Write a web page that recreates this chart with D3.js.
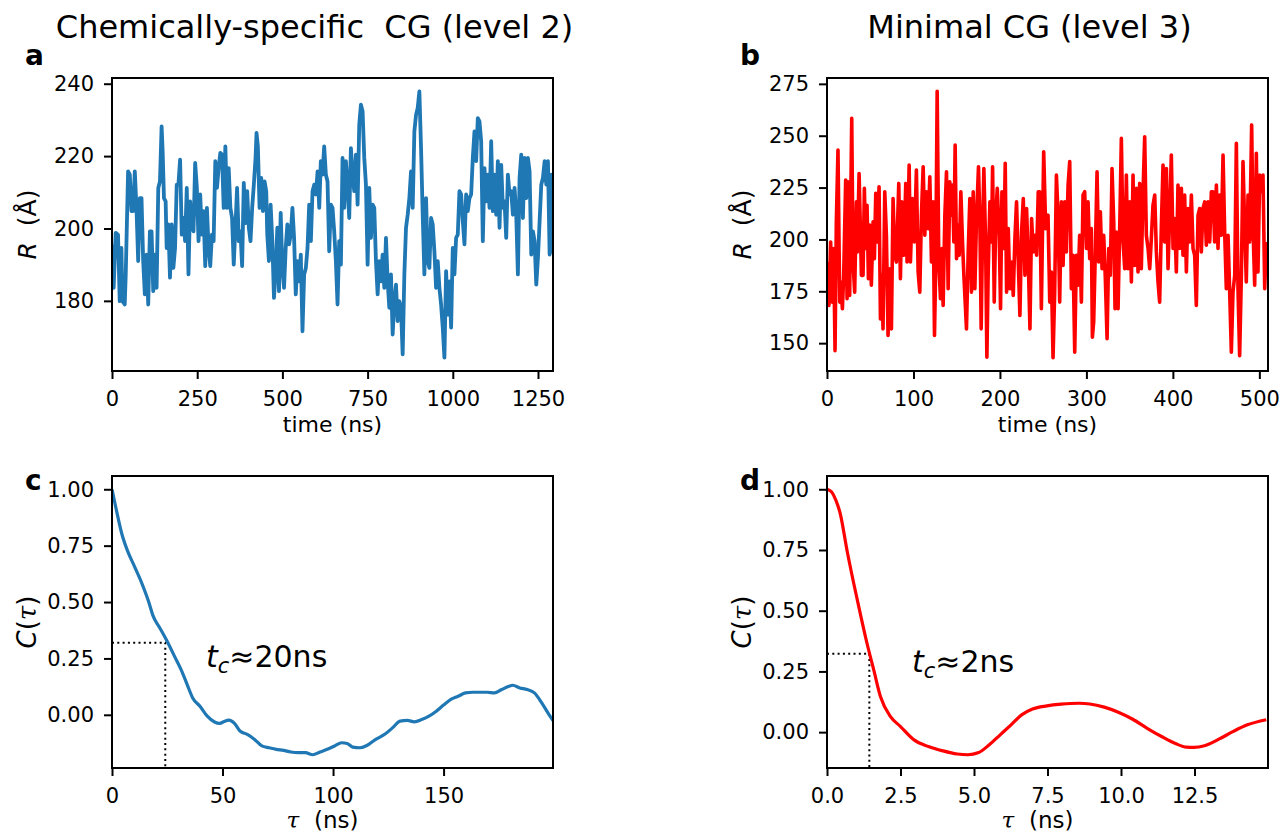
<!DOCTYPE html>
<html>
<head>
<meta charset="utf-8">
<script src="https://cdn.jsdelivr.net/npm/d3@7"></script>
<style>
  html, body { margin: 0; padding: 0; background: #fff; }
  svg { display: block; font-family: "DejaVu Sans", sans-serif; }
</style>
</head>
<body>
<svg id="chart" width="1283" height="838"></svg>
<script>
// ---------------- DATA ----------------
// Panel a: chemically-specific CG, R (Å) vs time (ns)
const aTime = [0,4.9,10.8,17.7,22.6,27.6,30.5,37.4,40.3,47.2,52.2,57.1,62.0,66.9,71.8,76.8,81.7,86.6,91.5,96.4,101.4,106.3,111.2,116.1,121.0,126.0,130.9,135.8,140.7,145.6,148.6,152.5,157.4,160.4,165.3,170.2,175.2,180.1,185.0,189.9,194.8,199.8,204.7,209.6,214.5,219.4,224.4,229.3,234.2,239.1,244.0,249.0,253.9,258.8,263.7,268.6,273.6,278.5,283.4,288.3,293.2,298.2,303.1,308.0,312.9,317.8,322.8,327.7,332.6,337.5,342.4,347.4,352.3,357.2,362.1,367.0,372.0,376.9,381.8,386.7,391.6,396.6,401.5,406.4,411.3,416.2,421.2,424.1,428.0,433.0,437.9,442.8,447.7,452.6,455.6,460.5,465.4,470.4,475.3,480.2,485.1,490.0,495.0,499.9,504.8,509.7,514.6,519.6,524.5,529.4,534.3,539.2,544.2,549.1,554.0,558.9,563.8,568.8,573.7,578.6,583.5,588.4,593.4,598.3,603.2,608.1,612.8,617.7,622.6,627.5,632.4,637.3,642.2,647.1,652.0,656.9,661.8,666.7,671.6,676.5,681.4,686.3,691.2,696.1,701.0,705.9,710.8,715.7,720.6,725.5,730.4,735.3,740.2,745.1,750.0,754.9,759.8,764.7,769.6,774.5,779.4,784.3,789.2,794.1,799.0,803.9,808.8,813.7,818.6,823.5,828.4,833.3,838.2,843.1,848.0,852.9,857.8,862.7,867.6,872.5,877.4,882.3,887.2,892.1,897.0,901.9,906.8,911.7,916.6,921.5,926.4,931.3,936.2,941.1,946.0,950.9,955.8,960.7,965.6,970.5,975.4,980.3,985.2,990.1,995.0,999.9,1004.8,1009.7,1014.6,1019.5,1024.4,1029.3,1034.2,1039.1,1044.0,1048.9,1053.8,1058.7,1063.6,1068.5,1073.4,1078.3,1083.2,1088.1,1093.0,1097.9,1102.8,1107.7,1112.6,1117.5,1122.4,1127.3,1132.2,1137.1,1142.0,1146.9,1151.8,1156.7,1161.6,1166.5,1171.4,1176.3,1181.2,1186.1,1191.0,1195.9,1200.8,1205.7,1210.6,1215.5,1220.4,1225.3,1230.2,1235.1,1240.0,1244.9,1249.8,1254.7,1259.6,1264.5,1269.4,1274.3,1279.2,1284.1,1289.0,1294.0];
const aR = [195.6,183.6,198.8,198.3,179.9,194.6,179.9,179.0,187.3,215.8,214.9,204.8,204.8,215.8,205.7,191.0,208.4,208.4,191.0,181.8,192.8,179.0,199.2,199.2,182.7,192.8,183.6,211.2,213.0,228.2,221.3,208.4,207.5,194.6,201.1,186.4,201.1,189.1,194.6,212.1,212.1,219.0,198.3,202.9,196.5,211.2,187.3,207.5,201.1,199.2,218.1,211.2,196.5,209.4,198.3,204.8,189.6,205.7,194.6,189.6,198.3,196.5,218.6,211.2,216.7,220.9,220.4,205.7,222.7,205.7,216.7,205.7,202.9,190.0,200.2,211.2,196.5,199.2,189.6,212.6,201.5,210.3,200.2,196.5,205.7,212.1,219.5,226.4,222.7,205.7,214.0,204.8,213.0,210.3,198.3,191.0,206.6,196.5,180.8,188.2,200.2,182.7,204.3,189.1,183.6,194.6,201.1,195.6,198.3,205.7,197.4,181.8,191.0,185.4,192.8,171.6,187.3,189.1,194.6,206.6,196.5,210.3,212.1,209.4,215.8,205.7,218.6,214.9,222.7,214.9,213.0,193.7,206.6,205.7,199.2,191.0,179.0,196.5,190.0,219.5,205.7,218.6,212.1,202.9,222.2,214.9,210.3,220.4,206.6,228.7,234.2,232.4,219.5,212.1,190.0,211.2,197.4,206.6,205.7,191.0,181.8,191.0,185.4,192.8,183.6,197.4,185.4,178.1,187.3,170.7,179.9,184.5,174.4,179.9,178.1,165.2,187.3,200.2,203.8,208.4,215.8,205.7,226.8,231.4,233.3,237.9,222.2,203.8,187.3,208.4,191.0,189.1,202.9,201.1,193.7,183.6,191.0,183.6,179.0,172.6,164.3,188.2,176.2,185.4,172.6,194.6,187.3,197.4,198.3,210.3,209.4,202.0,195.6,209.4,204.8,208.4,209.4,219.5,226.8,218.6,230.5,229.6,224.1,196.5,216.7,207.5,214.9,205.7,224.1,204.8,214.9,203.8,218.6,200.2,217.6,205.7,207.5,197.4,214.9,209.4,210.3,203.8,211.2,203.8,187.3,214.0,220.4,202.9,219.5,208.4,219.5,215.8,192.8,199.2,196.5,184.5,191.9,202.0,212.1,214.0,218.6,212.1,218.6,192.8,214.9,193.0];

// Panel b: minimal CG, R (Å) vs time (ns)
const bTime = [0,2.3,4.2,6.2,7.7,9.3,10.8,12.7,14.7,15.8,17.8,19.3,21.6,23.2,24.3,26.2,28.6,30.1,32.0,34.0,35.1,37.1,38.6,39.8,41.7,43.2,44.8,46.3,47.9,49.4,51.3,53.3,54.8,56.4,57.9,60.2,61.8,63.3,64.8,66.8,68.7,70.6,72.6,74.5,76.4,78.4,80.3,83.0,84.9,86.5,88.8,91.1,92.6,95.0,96.5,98.8,101.1,103.4,105.4,107.3,109.2,111.2,113.1,115.0,117.0,118.9,120.8,122.7,124.3,125.8,127.4,129.3,131.2,132.8,134.3,136.3,138.2,140.1,142.0,143.6,145.1,146.7,148.2,149.8,151.3,152.9,154.8,156.7,158.3,159.8,161.3,163.3,165.2,167.1,169.1,171.0,172.9,175.2,176.8,178.3,179.9,181.4,183.4,184.9,186.4,188.4,190.3,191.5,193.4,195.3,196.9,199.2,200.7,202.3,204.6,206.1,207.7,209.6,211.5,213.5,215.4,217.3,219.2,221.2,223.1,225.0,227.0,228.9,230.8,232.8,234.7,236.6,238.5,240.5,242.4,244.3,246.0,247.9,250.6,252.9,255.6,257.6,259.5,261.4,263.3,265.3,267.2,269.1,271.1,273.0,274.9,276.8,278.8,280.7,282.6,284.5,286.5,288.4,290.3,292.2,294.2,296.1,298.0,300.0,301.9,303.8,305.7,306.9,308.4,310.4,312.3,314.2,316.1,318.1,320.0,321.9,323.9,325.8,327.7,329.6,331.6,333.1,334.6,336.6,338.5,340.4,342.4,344.3,346.2,348.1,350.1,352.0,353.9,355.8,357.8,359.7,361.6,363.5,365.5,367.4,369.3,371.3,373.2,375.1,377.0,379.0,380.9,382.8,384.7,386.7,388.6,390.5,392.5,394.4,396.3,398.2,400.2,402.1,404.0,405.9,407.9,409.8,411.7,413.6,415.6,417.5,419.4,421.4,423.3,425.2,427.1,429.1,431.0,432.9,434.8,436.8,438.7,440.6,442.6,444.5,446.4,448.3,450.3,452.2,454.1,456.0,458.0,459.9,461.8,463.8,465.7,467.6,469.5,471.5,473.4,475.3,477.2,479.2,481.1,483.0,484.9,486.9,488.8,491.1,492.7,494.6,496.5,498.4,500.4,502.3,504.2,506.2,508.1];
const bR = [189.1,168.2,198.8,169.8,195.6,146.4,208.5,243.1,169.8,179.5,166.6,182.7,228.6,171.4,227.8,173.0,258.4,189.1,174.6,218.1,194.0,231.8,205.2,182.7,182.7,224.6,195.6,216.5,181.1,206.9,177.9,208.5,190.7,222.2,198.8,225.4,161.7,182.7,156.9,223.0,202.0,153.7,185.9,156.9,219.7,192.4,189.1,227.0,181.1,218.1,192.4,227.0,189.1,235.9,189.1,219.7,198.8,233.4,184.3,174.6,211.7,235.0,202.0,223.0,205.2,230.2,189.1,218.1,153.7,189.1,271.4,189.1,171.4,195.6,168.2,211.7,232.6,176.2,227.8,211.7,226.2,198.8,245.5,190.7,206.9,192.4,223.0,198.8,182.7,169.8,156.9,194.0,219.7,174.6,223.0,176.2,210.1,235.0,208.5,156.9,203.6,234.2,198.8,143.2,184.3,218.1,198.8,235.0,169.8,211.7,224.6,202.0,166.6,223.0,195.6,236.7,174.6,205.2,176.2,189.1,173.0,200.4,218.1,189.1,163.3,203.6,219.7,182.7,214.9,189.1,156.9,210.1,194.0,202.0,192.4,223.0,223.0,166.6,242.3,205.2,211.7,169.8,184.3,143.0,174.6,231.0,211.7,169.8,218.1,187.5,218.1,194.0,226.2,237.5,176.2,192.4,145.6,192.4,177.9,202.0,169.8,221.4,223.0,195.6,218.1,190.7,205.2,152.9,160.1,195.6,232.6,189.1,213.3,185.9,202.0,181.1,152.1,195.6,182.7,234.2,208.5,166.6,203.6,166.6,205.2,248.7,198.8,185.9,231.0,185.9,218.1,179.5,231.0,187.5,224.6,184.3,227.0,185.9,223.0,249.5,202.0,195.6,185.9,200.4,216.5,221.4,194.0,179.5,169.8,206.9,235.9,198.8,234.2,185.9,211.7,240.7,195.6,210.1,184.3,226.2,195.6,224.6,192.4,221.4,184.3,214.9,198.8,221.4,195.6,192.4,168.2,211.7,214.9,194.0,214.9,218.1,197.2,218.1,198.8,223.0,223.0,198.8,226.2,195.6,221.4,202.0,240.7,203.6,176.2,202.0,174.6,145.6,174.6,182.7,246.3,176.2,144.0,182.7,237.5,206.9,179.5,221.4,198.8,255.2,205.2,177.9,241.5,184.3,231.0,223.0,231.0,176.2,198.8];

// Panel c: autocorrelation, level 2
const cTau = [0,2,4.4,6.9,10.2,13.5,16.8,18.4,21.7,25.0,28.3,31.6,34.0,36.5,39.8,43.1,46.4,48.8,50.5,52.9,55.4,57.9,61.2,64.5,67.8,71.1,74.3,77.6,80.9,84.2,87.5,90.8,94.1,97.4,100.7,103.9,106.4,108.9,112.2,115.5,118.8,123.7,127.0,130.3,133.6,136.8,140.1,143.4,146.7,150.0,153.3,156.6,159.9,163.2,166.4,169.7,173.0,176.3,179.6,181.3,184.5,187.8,191.1,194.4,197.7,199.7];
const cC = [1.0,0.907,0.804,0.730,0.657,0.583,0.495,0.443,0.384,0.325,0.259,0.193,0.134,0.075,0.038,-0.006,-0.032,-0.038,-0.031,-0.024,-0.038,-0.072,-0.087,-0.109,-0.138,-0.146,-0.153,-0.158,-0.165,-0.168,-0.168,-0.177,-0.165,-0.153,-0.138,-0.124,-0.127,-0.143,-0.146,-0.135,-0.112,-0.084,-0.057,-0.028,-0.025,-0.031,-0.021,-0.006,0.016,0.043,0.068,0.082,0.097,0.100,0.100,0.100,0.097,0.112,0.127,0.131,0.119,0.112,0.097,0.053,0.001,-0.028];

// Panel d: autocorrelation, level 3
const dTau = [0,0.15,0.3,0.45,0.68,0.91,1.13,1.36,1.59,1.82,2.16,2.5,2.96,3.45,3.94,4.43,4.79,5.16,5.52,5.89,6.26,6.62,6.99,7.48,7.96,8.57,8.94,9.43,9.91,10.40,10.89,11.38,11.87,12.23,12.48,12.84,13.33,13.82,14.30,14.94];
const dC = [1.0,0.99,0.955,0.90,0.749,0.612,0.489,0.366,0.256,0.146,0.064,0.023,-0.032,-0.059,-0.077,-0.090,-0.093,-0.084,-0.052,-0.011,0.030,0.071,0.095,0.108,0.115,0.119,0.116,0.103,0.082,0.053,0.016,-0.018,-0.048,-0.062,-0.063,-0.056,-0.029,0.003,0.030,0.051];

// Correlation-time markers [tau, C]
const cMarker = [24.1, 0.32];
const dMarker = [1.44, 0.323];

// Tick values
const aXTicks = [0, 250, 500, 750, 1000, 1250];
const aYTicks = [180, 200, 220, 240];
const bXTicks = [0, 100, 200, 300, 400, 500];
const bYTicks = [150, 175, 200, 225, 250, 275];
const cXTicks = [0, 50, 100, 150];
const dXTicks = [0, 2.5, 5, 7.5, 10, 12.5];
const corrYTicks = [0, 0.25, 0.5, 0.75, 1.0];

// x-limits
const aXLim = [0, 1294];
const bXLim = [0, 510];
const cXLim = [0, 199.5];
const dXLim = [0, 15];

// Texts
const titles = ["Chemically-specific  CG (level 2)", "Minimal CG (level 3)"];
const panelLetters = ["a", "b", "c", "d"];
const annotations = ["20ns", "2ns"];

// ---------------- DRAW ----------------
const svg = d3.select("#chart");
const BLUE = "#1f77b4", RED = "#ff0000";

function pad(ext) { const r = ext[1] - ext[0]; return [ext[0] - 0.05 * r, ext[1] + 0.05 * r]; }

const panels = [
  { x: aTime, y: aR, xlim: aXLim, xt: aXTicks, yt: aYTicks, xf: d3.format("d"), yf: d3.format("d"),
    box: [112, 78, 553, 371], color: BLUE, lw: 3.8, kind: "ts" },
  { x: bTime, y: bR, xlim: bXLim, xt: bXTicks, yt: bYTicks, xf: d3.format("d"), yf: d3.format("d"),
    box: [827, 78, 1268, 371], color: RED, lw: 3.6, kind: "ts" },
  { x: cTau, y: cC, xlim: cXLim, xt: cXTicks, yt: corrYTicks, xf: d3.format("d"), yf: d3.format(".2f"),
    box: [112, 476, 553, 768], color: BLUE, lw: 3.2, kind: "corr", marker: cMarker, ann: annotations[0], annX: 206 },
  { x: dTau, y: dC, xlim: dXLim, xt: dXTicks, yt: corrYTicks, xf: d3.format(".1f"), yf: d3.format(".2f"),
    box: [827, 476, 1268, 768], color: RED, lw: 3.2, kind: "corr", marker: dMarker, ann: annotations[1], annX: 912 }
];

panels.forEach((p, i) => {
  const [x0, y0, x1, y1] = p.box;
  const xs = d3.scaleLinear().domain(p.xlim).range([x0, x1]);
  const ys = d3.scaleLinear().domain(pad(d3.extent(p.y))).range([y1, y0]);
  const g = svg.append("g");

  const clipId = "clip" + i;
  svg.append("clipPath").attr("id", clipId).append("rect")
    .attr("x", x0).attr("y", y0).attr("width", x1 - x0).attr("height", y1 - y0);

  const pts = p.x.map((t, k) => [t, p.y[k]]);
  const line = d3.line().x(d => xs(d[0])).y(d => ys(d[1]))
    .curve(p.kind === "corr" ? d3.curveMonotoneX : d3.curveLinear);

  if (p.marker) {
    const [mt, mc] = p.marker;
    g.append("path")
      .attr("d", `M${x0},${ys(mc)}H${xs(mt)}V${y1}`)
      .attr("fill", "none").attr("stroke", "#000").attr("stroke-width", 2)
      .attr("stroke-dasharray", "2,3.3");
  }

  g.append("path").datum(pts)
    .attr("clip-path", `url(#${clipId})`)
    .attr("d", line).attr("fill", "none")
    .attr("stroke", p.color).attr("stroke-width", p.lw)
    .attr("stroke-linejoin", "round").attr("stroke-linecap", "butt");

  const xa = d3.axisBottom(xs).tickValues(p.xt).tickFormat(p.xf).tickSize(8).tickPadding(12);
  const ya = d3.axisLeft(ys).tickValues(p.yt).tickFormat(p.yf).tickSize(8).tickPadding(10);
  const gx = g.append("g").attr("transform", `translate(0,${y1})`).call(xa);
  const gy = g.append("g").attr("transform", `translate(${x0},0)`).call(ya);
  [gx, gy].forEach(ax => {
    ax.select(".domain").remove();
    ax.selectAll("line").attr("stroke", "#000").attr("stroke-width", 2);
    ax.selectAll("text").attr("fill", "#000").style("font-size", "21px")
      .style("font-family", "DejaVu Sans");
  });

  g.append("rect").attr("x", x0).attr("y", y0).attr("width", x1 - x0).attr("height", y1 - y0)
    .attr("fill", "none").attr("stroke", "#000").attr("stroke-width", 2);

  const cx = (x0 + x1) / 2, cy = (y0 + y1) / 2;
  if (p.kind === "ts") {
    g.append("text").attr("x", cx).attr("y", y1 + 61).attr("text-anchor", "middle")
      .style("font-size", "22px").text("time (ns)");
    const yl = g.append("text").attr("transform", `translate(${x0 - 76},${cy}) rotate(-90)`)
      .attr("text-anchor", "middle").style("font-size", "25px").style("white-space", "pre");
    yl.append("tspan").style("font-style", "italic").text("R");
    yl.append("tspan").text("  (Å)");
  } else {
    const xl = g.append("text").attr("x", cx - 10).attr("y", y1 + 60).attr("text-anchor", "middle")
      .style("font-size", "23px").style("white-space", "pre");
    xl.append("tspan").style("font-style", "italic").style("font-family", "DejaVu Serif").text("τ");
    xl.append("tspan").text("  (ns)");
    const yl = g.append("text").attr("transform", `translate(${x0 - 76},${cy}) rotate(-90)`)
      .attr("text-anchor", "middle").style("font-size", "26px");
    yl.append("tspan").style("font-style", "italic").text("C");
    yl.append("tspan").text("(");
    yl.append("tspan").style("font-style", "italic").style("font-family", "DejaVu Serif").text("τ");
    yl.append("tspan").text(")");

    const at = g.append("text").attr("x", p.annX).attr("y", i === 2 ? 667 : 672)
      .style("font-size", "30px");
    at.append("tspan").style("font-style", "italic").text("t");
    at.append("tspan").style("font-style", "italic").style("font-size", "21px").attr("dy", 6).text("c");
    at.append("tspan").attr("dy", -6).text("≈" + p.ann);
  }

  g.append("text").attr("x", x0 - 87).attr("y", i < 2 ? 65 : 490)
    .style("font-size", "28px").style("font-weight", "bold").text(panelLetters[i]);

  if (i < 2) {
    g.append("text").attr("x", cx - 18).attr("y", 38).attr("text-anchor", "middle")
      .style("font-size", "32px").style("white-space", "pre").text(titles[i]);
  }
});
</script>
</body>
</html>
